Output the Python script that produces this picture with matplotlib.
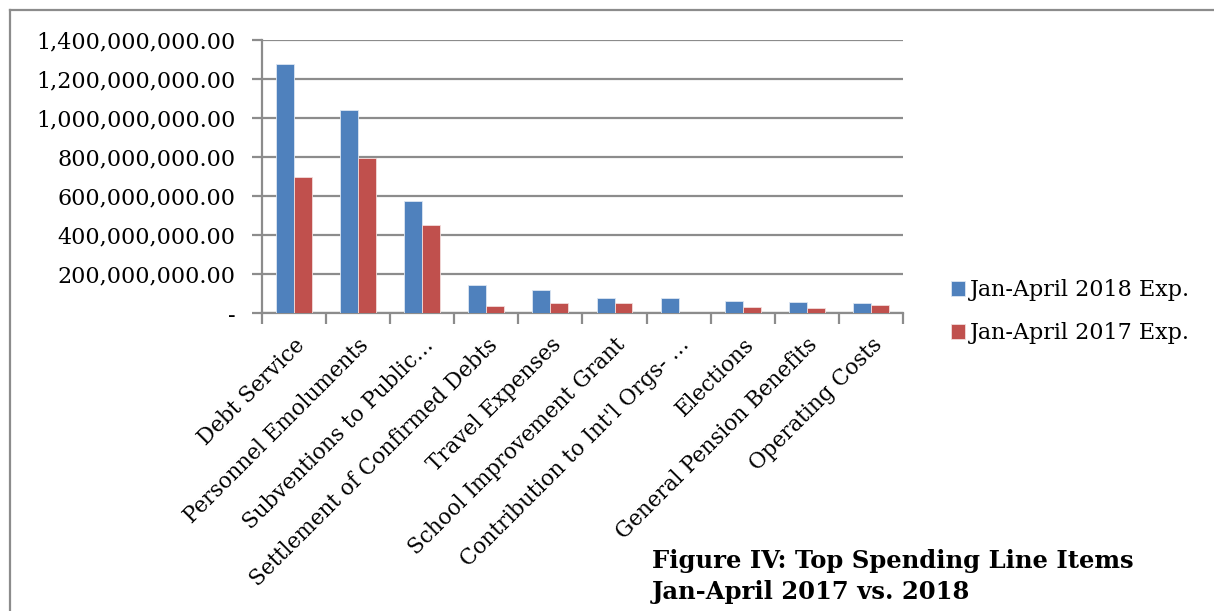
import matplotlib
matplotlib.use("Agg")
import matplotlib.pyplot as plt
import numpy as np
from matplotlib.lines import Line2D
from matplotlib.ticker import FuncFormatter, FixedLocator

categories = [
    "Debt Service",
    "Personnel Emoluments",
    "Subventions to Public\u2026",
    "Settlement of Confirmed Debts",
    "Travel Expenses",
    "School Improvement Grant",
    "Contribution to Int'l Orgs- \u2026",
    "Elections",
    "General Pension Benefits",
    "Operating Costs",
]
exp_2018 = [1275e6, 1042e6, 573e6, 145e6, 120e6, 77e6, 76e6, 60e6, 55e6, 50e6]
exp_2017 = [695e6, 797e6, 450e6, 34e6, 50e6, 52e6, 0, 31e6, 26e6, 39e6]
series_names = ["Jan-April 2018 Exp.", "Jan-April 2017 Exp."]
y_ticks = np.arange(0, 1.4e9 + 1, 2e8)

BLUE = "#4F81BD"
RED = "#C0504D"
GRID = "#8C8C8C"
FONT = "DejaVu Serif"

plt.rcParams["font.family"] = FONT

fig = plt.figure(figsize=(12.14, 6.11), dpi=100)
ax = fig.add_axes([0.2158, 0.4877, 0.528, 0.4468])

x = np.arange(len(categories))
w = 0.28
b1 = ax.bar(x - w / 2, exp_2018, w, color=BLUE, edgecolor="#DCE6F2", linewidth=0.6,
            label=series_names[0], zorder=3)
b2 = ax.bar(x + w / 2, exp_2017, w, color=RED, edgecolor="#F2DCDB", linewidth=0.6,
            label=series_names[1], zorder=3)

ax.set_xlim(-0.5, len(categories) - 0.5)
ax.set_ylim(0, 1.4e9)
ax.set_yticks(y_ticks)
ax.yaxis.set_major_formatter(FuncFormatter(lambda v, _: "-" if v == 0 else f"{v:,.2f}"))
ax.grid(axis="y", color=GRID, linewidth=1.6, zorder=0)

# category labels at centres, tick marks between categories
ax.set_xticks(x)
ax.set_xticklabels(categories, rotation=45, ha="right", rotation_mode="anchor",
                   fontsize=15.5)
ax.xaxis.set_minor_locator(FixedLocator(np.arange(-0.5, len(categories), 1)))
ax.tick_params(axis="x", which="major", length=0, pad=15)
ax.tick_params(axis="x", which="minor", length=8, width=1.6, color=GRID)
ax.tick_params(axis="y", length=7, width=1.6, color=GRID, labelsize=16, pad=12)

for side in ("top", "right"):
    ax.spines[side].set_visible(False)
for side in ("left", "bottom"):
    ax.spines[side].set_color(GRID)
    ax.spines[side].set_linewidth(1.6)

leg = fig.legend(handles=[b1, b2], labels=series_names, loc="upper left",
                 bbox_to_anchor=(0.776, 0.558), frameon=False, fontsize=16,
                 handlelength=0.65, handleheight=0.65, handletextpad=0.2,
                 labelspacing=0.95, borderaxespad=0)

fig.text(0.537, 0.012, "Figure IV: Top Spending Line Items\nJan-April 2017 vs. 2018",
         fontsize=17.5, fontweight="bold", ha="left", va="bottom",
         linespacing=1.35)

# outer frame (left and top edges)
fig.add_artist(Line2D([10 / 1214, 10 / 1214], [0, 1 - 10 / 611],
                      transform=fig.transFigure, color="#8C8C8C", linewidth=1.6))
fig.add_artist(Line2D([10 / 1214, 1], [1 - 10 / 611, 1 - 10 / 611],
                      transform=fig.transFigure, color="#8C8C8C", linewidth=1.6))

fig.savefig("out.png", dpi=100, facecolor="white")
